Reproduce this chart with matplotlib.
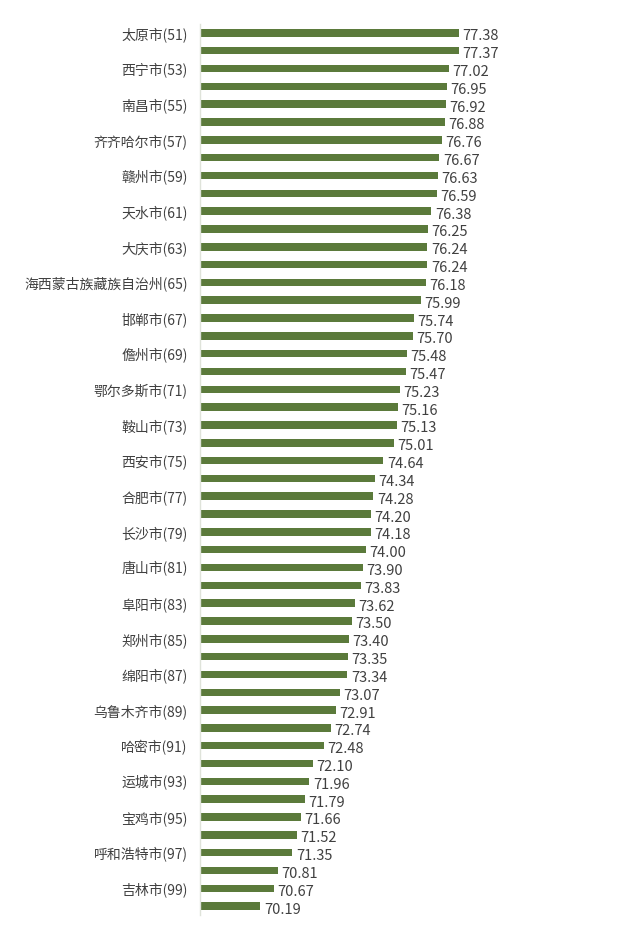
import matplotlib
matplotlib.use("Agg")
import matplotlib.pyplot as plt

plt.rcParams['font.family'] = ['Noto Sans CJK SC', 'DejaVu Sans']

# 排名 51-100
ranks = list(range(51, 101))
names = ['太原市', '', '西宁市', '', '南昌市', '', '齐齐哈尔市', '', '赣州市', '',
         '天水市', '', '大庆市', '', '海西蒙古族藏族自治州', '', '邯郸市', '', '儋州市', '',
         '鄂尔多斯市', '', '鞍山市', '', '西安市', '', '合肥市', '', '长沙市', '',
         '唐山市', '', '阜阳市', '', '郑州市', '', '绵阳市', '', '乌鲁木齐市', '',
         '哈密市', '', '运城市', '', '宝鸡市', '', '呼和浩特市', '', '吉林市', '']
values = [77.38, 77.37, 77.02, 76.95, 76.92, 76.88, 76.76, 76.67, 76.63, 76.59,
          76.38, 76.25, 76.24, 76.24, 76.18, 75.99, 75.74, 75.70, 75.48, 75.47,
          75.23, 75.16, 75.13, 75.01, 74.64, 74.34, 74.28, 74.20, 74.18, 74.00,
          73.90, 73.83, 73.62, 73.50, 73.40, 73.35, 73.34, 73.07, 72.91, 72.74,
          72.48, 72.10, 71.96, 71.79, 71.66, 71.52, 71.35, 70.81, 70.67, 70.19]

labels = [f'{n}({r})' if n else '' for n, r in zip(names, ranks)]

fig = plt.figure(figsize=(6.4, 9.31), dpi=100)
ax = fig.add_axes([0.3125, 0.0172, 0.66, 0.957])

y = list(range(len(values)))
ax.barh(y, [v - 68 for v in values], left=68, height=0.42, color='#5b7a3b')

for yi, v in zip(y, values):
    ax.annotate(f'{v:.2f}', (v, yi), xytext=(2.5, -2.5), textcoords='offset points',
                ha='left', va='center', fontsize=10.5, color='#404040')

ax.set_ylim(len(values) - 0.5, -0.5)
ax.set_xlim(68, 83.3)
ax.set_yticks(y)
ax.set_yticklabels(labels, fontsize=10, color='#404040')
ax.tick_params(axis='y', length=0, pad=9)
ax.set_xticks([])
for s in ['top', 'right', 'bottom']:
    ax.spines[s].set_visible(False)
ax.spines['left'].set_color('#dfe3da')
ax.spines['left'].set_linewidth(1.0)

fig.savefig('out.png', dpi=100, facecolor='white')
